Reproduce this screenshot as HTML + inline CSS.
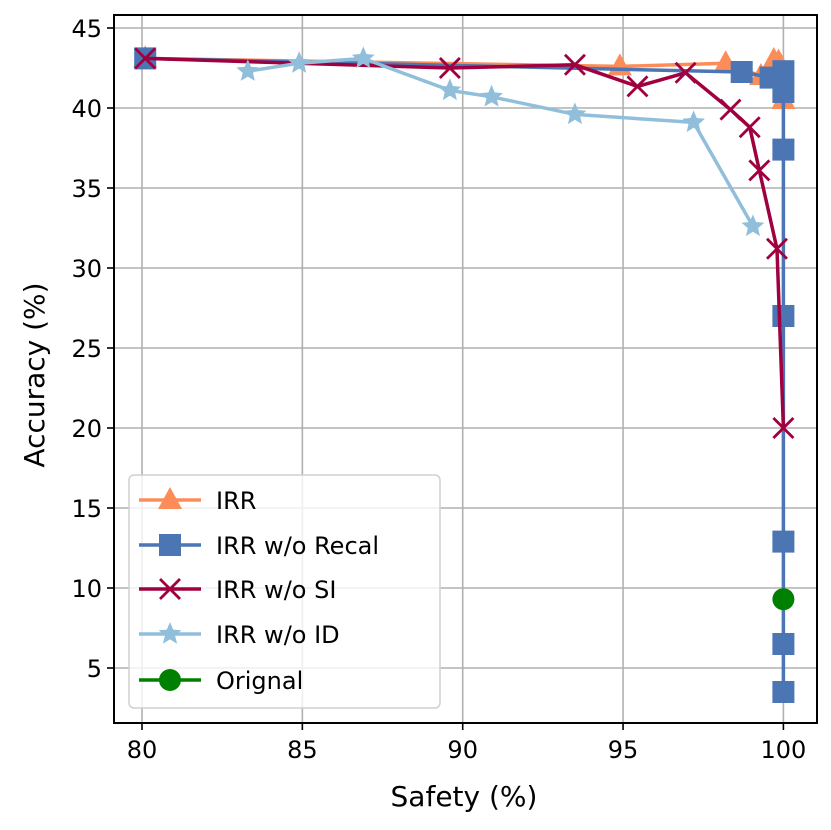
<!DOCTYPE html>
<html><head><meta charset="utf-8"><style>
body{margin:0;background:#fff}
svg{display:block;font-family:"DejaVu Sans","Liberation Sans",sans-serif}
</style></head><body>
<svg id="c" width="831" height="830" viewBox="0 0 831 830"></svg>
<script>
const xTicks=[80,85,90,95,100];
const yTicks=[5,10,15,20,25,30,35,40,45];
const irrX=[80.1,94.9,98.2,99.3,99.7,99.85,100];
const irrY=[43.1,42.6,42.8,42.0,43.0,42.9,40.5];
const recalX=[80.1,98.7,99.6,100,100,100,100,100,100,100];
const recalY=[43.1,42.25,41.9,42.3,41.0,37.4,27.0,12.9,6.5,3.5];
const siX=[80.1,89.6,93.5,95.45,96.95,98.35,98.95,99.25,99.8,100];
const siY=[43.1,42.5,42.7,41.35,42.2,39.9,38.8,36.1,31.2,20.0];
const idX=[83.3,84.9,86.9,89.6,90.9,93.5,97.2,99.05];
const idY=[42.3,42.8,43.1,41.1,40.7,39.6,39.1,32.6];
const origX=[100];
const origY=[9.3];
const NS="http://www.w3.org/2000/svg";
const svg=document.getElementById('c');
const L=114,R=817,T=15,B=723;
const sx=v=>142+(v-80)*32.07;
const sy=v=>28+(45-v)*16;
function el(tag,attrs,parent){const e=document.createElementNS(NS,tag);for(const k in attrs)e.setAttribute(k,attrs[k]);(parent||svg).appendChild(e);return e;}
const g=el('g',{});


xTicks.forEach(t=>{const l=el('line',{x1:sx(t),x2:sx(t),y1:T,y2:B,stroke:'#b0b0b0','stroke-width':1.6},g);

});
yTicks.forEach(t=>{const l=el('line',{x1:L,x2:R,y1:sy(t),y2:sy(t),stroke:'#b0b0b0','stroke-width':1.6},g);

});
xTicks.forEach(t=>{el('line',{x1:sx(t),x2:sx(t),y1:B,y2:B+7,stroke:'#000','stroke-width':1.6});
const tx=el('text',{x:sx(t),y:B+35,'font-size':24,'text-anchor':'middle'});tx.textContent=t;

});
yTicks.forEach(t=>{el('line',{x1:L-7,x2:L,y1:sy(t),y2:sy(t),stroke:'#000','stroke-width':1.6});
const tx=el('text',{x:L-12,y:sy(t)+9,'font-size':24,'text-anchor':'end'});tx.textContent=t;

});
function star(cx,cy,r){let p=[];for(let i=0;i<10;i++){const a=-Math.PI/2+i*Math.PI/5;const rr=i%2?r*0.45:r;p.push((cx+rr*Math.cos(a)).toFixed(1)+','+(cy+rr*Math.sin(a)).toFixed(1));}return p.join(' ');}
function marker(type,cx,cy,color,parent){
 if(type==='tri')return el('polygon',{points:`${cx},${cy-13} ${cx-12},${cy+9} ${cx+12},${cy+9}`,fill:color},parent);
 if(type==='sq')return el('rect',{x:cx-11,y:cy-11,width:22,height:22,fill:color},parent);
 if(type==='x')return el('path',{d:`M${cx-10},${cy-10}L${cx+10},${cy+10}M${cx-10},${cy+10}L${cx+10},${cy-10}`,stroke:color,'stroke-width':2.8,fill:'none'},parent);
 if(type==='star')return el('polygon',{points:star(cx,cy,12),fill:color},parent);
 return el('circle',{cx:cx,cy:cy,r:11,fill:color},parent);
}
const series=[
 {n:'irr',x:irrX,y:irrY,c:'#fc8d59',m:'tri',label:'IRR'},
 {n:'irr-wo-recal',x:recalX,y:recalY,c:'#4c75b3',m:'sq',label:'IRR w/o Recal'},
 {n:'irr-wo-si',x:siX,y:siY,c:'#a0003f',m:'x',label:'IRR w/o SI'},
 {n:'irr-wo-id',x:idX,y:idY,c:'#91bfdb',m:'star',label:'IRR w/o ID'},
 {n:'original',x:origX,y:origY,c:'#008000',m:'circ',label:'Orignal'}
];
series.forEach(s=>{
 const sg=el('g',{});
 
 
 const pl=el('polyline',{points:s.x.map((v,i)=>sx(v)+','+sy(s.y[i])).join(' '),fill:'none',stroke:s.c,'stroke-width':3.5,'stroke-linejoin':'round'},sg);
 
 
 s.x.forEach((v,i)=>{const mk=marker(s.m,sx(v),sy(s.y[i]),s.c,sg);
 
 });
});
const fr=el('rect',{x:L,y:T,width:R-L,height:B-T,fill:'none',stroke:'#000','stroke-width':2});


const lg=el('g',{});


el('rect',{x:129,y:475,width:311,height:233,rx:5,fill:'#fff','fill-opacity':0.8,stroke:'#d0d0d0','stroke-width':1.5},lg);
const ly=[500,545,589,634,680];
series.forEach((s,i)=>{
 const eg=el('g',{},lg);
 
 
 el('line',{x1:139,x2:201,y1:ly[i],y2:ly[i],stroke:s.c,'stroke-width':3.5},eg);
 marker(s.m,170,ly[i],s.c,eg);
 const t=el('text',{x:216,y:ly[i]+9,'font-size':24},eg);t.textContent=s.label;
});
const xt=el('text',{x:464,y:806,'font-size':28,'text-anchor':'middle'});xt.textContent='Safety (%)';


const yt=el('text',{x:0,y:0,'font-size':28,'text-anchor':'middle',transform:'translate(44,375) rotate(-90)'});yt.textContent='Accuracy (%)';


</script>
</body></html>
